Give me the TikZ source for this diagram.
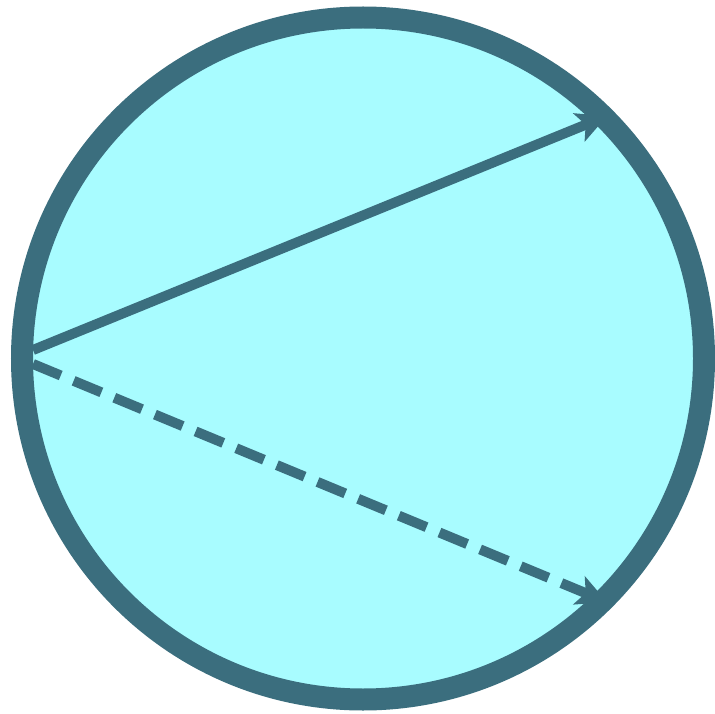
\documentclass[tikz,border=0pt]{standalone}
\usetikzlibrary{arrows.meta}
\definecolor{rim}{HTML}{3B6E7E}
\definecolor{disc}{HTML}{A8FCFF}
\tikzset{
  ring/.style={circle, draw=rim, fill=disc, line width=22pt, minimum size=682pt, inner sep=0pt},
  ray/.style={draw=rim, line width=10pt, -{Stealth[length=30pt,width=30pt,inset=7pt]}},
  dashray/.style={ray, dash pattern=on 30pt off 14pt}
}
\begin{document}
\begin{tikzpicture}[x=1pt,y=-1pt]
\useasboundingbox (0,0) rectangle (715,714);
\node[ring] (c) at (363,358.5) {};
\coordinate (s1) at (33,350);
\coordinate (e1) at (607,116);
\coordinate (s2) at (33,364);
\coordinate (e2) at (607,602);
\draw[ray] (s1) -- (e1);
\draw[dashray] (s2) -- (e2);
\end{tikzpicture}
\end{document}
